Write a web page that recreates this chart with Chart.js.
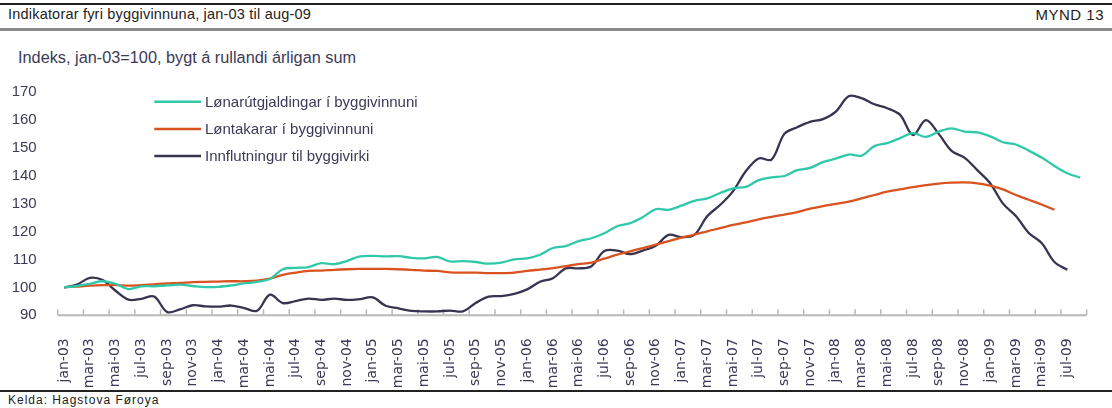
<!DOCTYPE html>
<html>
<head>
<meta charset="utf-8">
<script src="https://cdn.jsdelivr.net/npm/chart.js@4/dist/chart.umd.min.js"></script>
<style>
body { margin:0; width:1112px; height:408px; background:#fff; overflow:hidden; position:relative; font-family:"Liberation Sans", Arial, sans-serif; }
#topline { position:absolute; left:0; top:3px; width:1112px; height:2px; background:#222; }
#title { position:absolute; left:8px; top:6px; font-size:14.5px; letter-spacing:0.2px; color:#222; white-space:nowrap; }
#mynd { position:absolute; right:8px; top:6px; font-size:15px; letter-spacing:0.5px; color:#222; }
#rule { position:absolute; left:0; top:28px; width:1112px; height:3px; background:#8a8a8a; }
#sub { position:absolute; left:18px; top:48px; font-size:16.3px; color:#3a3a58; white-space:nowrap; }
#wrap { position:absolute; left:0; top:70px; width:1112px; height:320px; }
#botline { position:absolute; left:0; top:390px; width:1112px; height:1.5px; background:#222; }
#src { position:absolute; left:8px; top:393px; font-size:12px; letter-spacing:1px; color:#222; white-space:nowrap; }
</style>
</head>
<body>
<div id="topline"></div>
<div id="title">Indikatorar fyri byggivinnuna, jan-03 til aug-09</div>
<div id="mynd">MYND 13</div>
<div id="rule"></div>
<div id="sub">Indeks, jan-03=100, bygt á rullandi árligan sum</div>
<div id="wrap"><canvas id="chart"></canvas></div>
<div id="botline"></div>
<div id="src">Kelda: Hagstova Føroya</div>
<script>
// months jan-03 .. aug-09
const months = [
  'jan-03','feb-03','mar-03','apr-03','mai-03','jun-03','jul-03','aug-03','sep-03','okt-03','nov-03','des-03',
  'jan-04','feb-04','mar-04','apr-04','mai-04','jun-04','jul-04','aug-04','sep-04','okt-04','nov-04','des-04',
  'jan-05','feb-05','mar-05','apr-05','mai-05','jun-05','jul-05','aug-05','sep-05','okt-05','nov-05','des-05',
  'jan-06','feb-06','mar-06','apr-06','mai-06','jun-06','jul-06','aug-06','sep-06','okt-06','nov-06','des-06',
  'jan-07','feb-07','mar-07','apr-07','mai-07','jun-07','jul-07','aug-07','sep-07','okt-07','nov-07','des-07',
  'jan-08','feb-08','mar-08','apr-08','mai-08','jun-08','jul-08','aug-08','sep-08','okt-08','nov-08','des-08',
  'jan-09','feb-09','mar-09','apr-09','mai-09','jun-09','jul-09','aug-09'
];

const lonarutgjaldingar = [
  100, 100.5, 101.3, 102.2, 101.3, 99.4, 100.4, 100.4, 100.7, 101.0, 100.5, 100.1,
  100.2, 100.7, 101.4, 102.0, 103.0, 106.5, 107.0, 107.3, 108.7, 108.3, 109.5, 111.1,
  111.3, 111.1, 111.2, 110.6, 110.4, 110.9, 109.3, 109.4, 109.1, 108.5, 108.9, 110.0,
  110.4, 111.7, 114.1, 114.8, 116.6, 117.6, 119.4, 121.9, 123.0, 125.2, 128.0, 127.8,
  129.3, 131.0, 131.9, 133.8, 135.5, 136.0, 138.4, 139.4, 139.9, 142.0, 142.8, 144.9,
  146.1, 147.6, 147.2, 150.6, 151.7, 153.5, 155.3, 153.9, 155.8, 157.0, 155.8, 155.5,
  154.1, 152.0, 151.2, 149.0, 146.5, 143.5, 140.9, 139.3
];

const lontakarar = [
  100, 100.3, 100.6, 100.8, 100.9, 100.6, 100.8, 101.1, 101.4, 101.6, 101.9, 102.0,
  102.1, 102.2, 102.2, 102.4, 103.1, 104.5, 105.3, 105.9, 106.0, 106.3, 106.5, 106.6,
  106.6, 106.6, 106.5, 106.3, 106.0, 105.9, 105.4, 105.3, 105.3, 105.1, 105.1, 105.3,
  105.9, 106.4, 106.9, 107.6, 108.3, 108.9, 110.3, 111.7, 112.9, 114.1, 115.3, 116.6,
  117.8, 118.9, 120.1, 121.2, 122.4, 123.3, 124.4, 125.3, 126.1, 127.0, 128.2, 129.1,
  129.9, 130.7, 131.9, 133.1, 134.3, 135.1, 135.9, 136.6, 137.2, 137.5, 137.6, 137.3,
  136.5, 135.1, 133.1, 131.4, 129.7, 127.8
];

const innflutningur = [
  100, 101.0, 103.4, 102.6, 98.8, 95.6, 95.9, 96.7, 91.2, 92.1, 93.6, 93.2,
  93.1, 93.5, 92.6, 91.6, 97.4, 94.4, 95.1, 96.0, 95.5, 96.0, 95.5, 95.8,
  96.4, 93.4, 92.5, 91.6, 91.4, 91.4, 91.7, 91.4, 94.4, 96.7, 96.9, 97.7,
  99.3, 102.0, 103.3, 106.8, 106.8, 107.6, 113.0, 113.2, 111.9, 113.2, 114.9, 118.8,
  118.0, 118.8, 125.5, 129.5, 134.4, 141.6, 146.2, 145.8, 155.0, 157.4, 159.3, 160.3,
  163.0, 168.5, 167.8, 165.6, 164.2, 161.8, 154.6, 159.9, 155.0, 148.9, 146.5, 142.0,
  137.3, 130.0, 125.6, 119.5, 115.9, 109.1, 106.3
];

const seriesNames = ['Lønarútgjaldingar í byggivinnuni', 'Løntakarar í byggivinnuni', 'Innflutningur til byggivirki'];
const seriesColors = ['#2fc9a9', '#d9521f', '#363450'];

const textColor = '#3a3a58';

// axis line + tick marks pointing up into the plot, every 2nd month
const axisPlugin = {
  id: 'axisTicks',
  beforeDatasetsDraw(chart) {
    const ctx = chart.ctx;
    const xs = chart.scales.x;
    const y = chart.chartArea.bottom;
    const step = (xs.right - xs.left) / months.length;
    ctx.save();
    ctx.strokeStyle = '#b9b9b9';
    ctx.lineWidth = 2;
    ctx.beginPath();
    ctx.moveTo(xs.left, y);
    ctx.lineTo(xs.right, y);
    ctx.stroke();
    ctx.lineWidth = 1.5;
    for (let i = 0; i <= months.length; i += 2) {
      const x = xs.left + i * step;
      ctx.beginPath();
      ctx.moveTo(x, y);
      ctx.lineTo(x, y - 6);
      ctx.stroke();
    }
    ctx.restore();
  }
};

// legend drawn inside the plot area
const legendPlugin = {
  id: 'insideLegend',
  afterDraw(chart) {
    const ctx = chart.ctx;
    ctx.save();
    ctx.font = '15px "Liberation Sans", Arial, sans-serif';
    ctx.textBaseline = 'middle';
    chart.data.datasets.forEach((ds, i) => {
      const y = 31.7 + i * 27.2;
      ctx.strokeStyle = ds.borderColor;
      ctx.lineWidth = 2.5;
      ctx.beginPath();
      ctx.moveTo(154.3, y);
      ctx.lineTo(201, y);
      ctx.stroke();
      ctx.fillStyle = textColor;
      ctx.fillText(ds.label, 205, y + 1);
    });
    ctx.restore();
  }
};

const chartData = {
  labels: months,
  datasets: [lonarutgjaldingar, lontakarar, innflutningur].map((values, i) => ({
    label: seriesNames[i],
    data: values,
    borderColor: seriesColors[i],
    backgroundColor: seriesColors[i],
    borderWidth: 2.3,
    pointRadius: 0,
    tension: 0.35,
    fill: false
  }))
};

const config = {
  type: 'line',
  data: chartData,
  options: {
    responsive: true,
    maintainAspectRatio: false,
    animation: false,
    layout: { padding: { top: 14, right: 1.3, left: 0, bottom: 0 } },
    plugins: {
      legend: { display: false },
      tooltip: { enabled: false }
    },
    scales: {
      x: {
        type: 'category',
        offset: true,
        grid: { display: false },
        border: { display: false },
        afterFit: (scale) => { scale.height = 74.7; },
        ticks: {
          autoSkip: false,
          minRotation: 90,
          maxRotation: 90,
          padding: 15,
          color: textColor,
          font: { family: '"DejaVu Sans", Verdana, sans-serif', size: 14 },
          callback: function (val, idx) { return idx % 2 === 0 ? this.getLabelForValue(val) : ''; }
        }
      },
      y: {
        min: 90,
        max: 170,
        grid: { display: false },
        border: { display: false },
        afterFit: (scale) => { scale.width = 57.7; },
        ticks: {
          stepSize: 10,
          padding: 13,
          color: textColor,
          font: { family: '"Liberation Sans", Arial, sans-serif', size: 15 }
        }
      }
    }
  },
  plugins: [axisPlugin, legendPlugin]
};

const chart = new Chart(document.getElementById('chart'), config);
</script>
</body>
</html>
